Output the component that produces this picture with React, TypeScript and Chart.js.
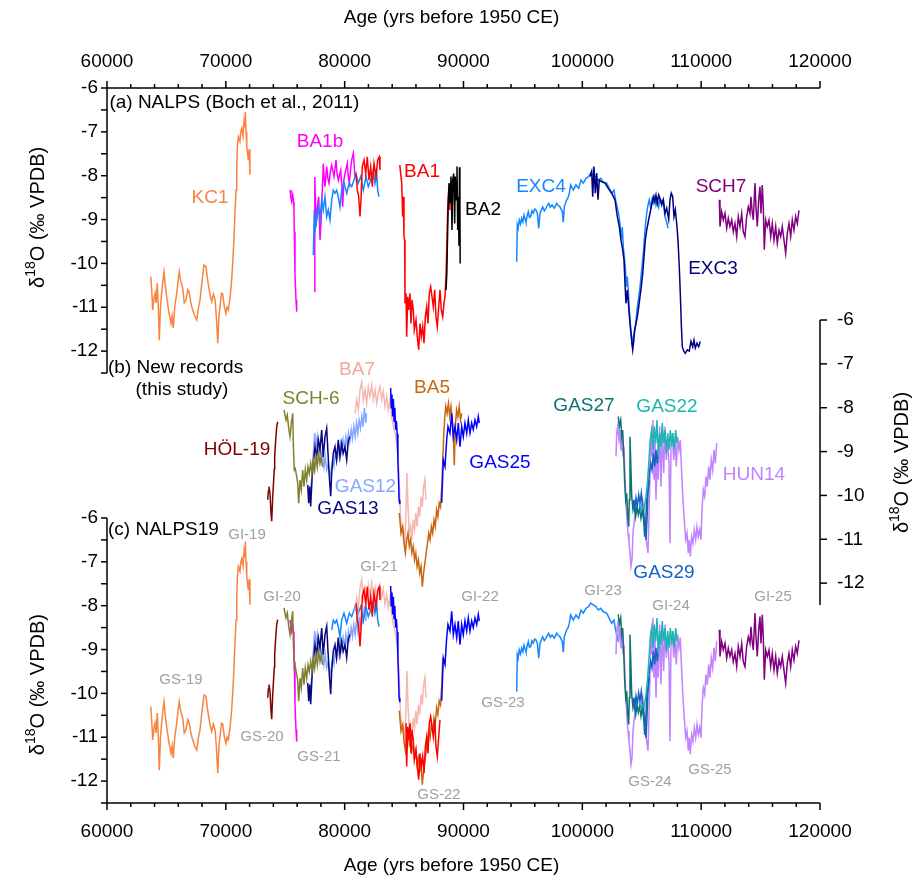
import React, { useEffect, useRef } from 'react';
import { Chart, registerables } from 'chart.js';
Chart.register(...registerables);

type P = [number, number];

// ---------------- data: [age (yrs BP 1950), d18O (permil VPDB)] ----------------
const KC1: P[] = [[63680,-10.30],[63760,-10.6],[63850,-11.06],[63950,-10.8],[64040,-10.68],[64130,-10.9],[64230,-10.45],[64320,-11.0],[64400,-11.75],[64500,-11.0],[64600,-10.68],[64700,-10.4],[64800,-10.19],[64900,-10.5],[65020,-10.76],[65200,-11.1],[65390,-11.37],[65480,-11.2],[65580,-11.47],[65700,-11.0],[65870,-10.68],[65980,-10.4],[66080,-10.19],[66200,-10.4],[66370,-10.56],[66500,-10.9],[66650,-10.83],[66800,-10.6],[66930,-10.68],[67050,-10.9],[67210,-11.06],[67380,-11.2],[67550,-11.29],[67700,-11.0],[67830,-10.83],[68000,-10.4],[68160,-10.04],[68330,-10.07],[68430,-10.3],[68530,-10.49],[68700,-10.75],[68810,-10.87],[68950,-10.7],[69090,-10.83],[69200,-11.2],[69320,-11.82],[69420,-11.2],[69510,-10.99],[69640,-10.68],[69740,-10.7],[69880,-11.0],[70010,-11.14],[70100,-11.0],[70210,-11.06],[70350,-10.8],[70490,-10.38],[70600,-9.9],[70690,-9.39],[70780,-8.8],[70860,-8.33],[70920,-7.8],[70970,-7.34],[71050,-7.11],[71190,-7.22],[71260,-7.0],[71340,-6.92],[71450,-7.1],[71530,-6.77],[71600,-6.9],[71640,-6.54],[71700,-7.0],[71760,-7.34],[71830,-7.5],[71890,-7.64],[71960,-7.4],[72030,-7.98]];

const BA1B_1: P[] = [[75400,-8.33],[75480,-8.5],[75543,-8.59],[75627,-8.44],[75700,-8.6],[75736,-8.78],[75760,-9.28],[75820,-10.23],[75870,-10.6],[75905,-10.83],[75963,-11.10]];
const BA1B_2: P[] = [[77445,-10.64],[77470,-9.5],[77503,-8.03],[77587,-9.16],[77697,-8.71],[77815,-8.48],[77924,-9.47],[78008,-9.09],[78118,-8.33],[78202,-7.72],[78280,-8.1],[78345,-8.25],[78488,-7.79],[78580,-8.05],[78681,-8.17],[78800,-7.9],[78909,-7.76],[79102,-8.02],[79271,-7.64],[79360,-7.95],[79464,-8.10],[79666,-7.87],[79760,-8.2],[79834,-8.71],[79930,-8.1],[80028,-7.95],[80221,-7.72],[80300,-8.0],[80390,-8.17],[80500,-7.85],[80592,-7.64],[80726,-7.49],[80869,-8.02]];

const EXC4_1: P[] = [[77361,-9.81],[77445,-8.78],[77540,-9.2],[77647,-9.01],[77781,-8.71],[77924,-9.01],[78067,-8.55],[78202,-8.78],[78345,-8.48],[78488,-8.93],[78622,-8.78],[78765,-9.01],[78909,-8.55],[79043,-8.33],[79186,-8.40],[79329,-8.33],[79464,-8.48],[79607,-8.71],[79750,-8.33],[79943,-8.17],[80170,-8.40],[80390,-8.17],[80592,-8.25],[80786,-8.10],[80954,-7.95],[81148,-8.17],[81350,-8.02],[81569,-8.33],[81796,-8.02],[81989,-8.25],[82191,-8.10],[82409,-7.87],[82552,-8.17],[82695,-7.95],[82780,-8.33],[82889,-8.48]];
const EXC4_2: P[] = [[94476,-9.96],[94527,-9.12],[94600,-9.2],[94695,-9.01],[94800,-9.1],[94897,-8.97],[95000,-9.05],[95091,-8.90],[95180,-8.98],[95259,-9.06],[95353,-8.92],[95453,-8.82],[95550,-8.95],[95655,-8.93],[95760,-8.8],[95873,-8.85],[96000,-8.76],[96100,-8.78],[96220,-8.86],[96327,-9.20],[96437,-8.86],[96550,-8.78],[96664,-8.71],[96800,-8.8],[96942,-8.74],[97050,-8.68],[97169,-8.63],[97300,-8.72],[97447,-8.67],[97641,-8.74],[97843,-8.63],[97980,-8.68],[98120,-8.71],[98314,-8.82],[98398,-9.06],[98482,-8.71],[98684,-8.55],[98800,-8.5],[98903,-8.40],[99021,-8.21],[99240,-8.33],[99466,-8.21],[99693,-8.29],[99887,-8.10],[100081,-8.17],[100308,-8.06],[100535,-8.02],[100703,-7.94],[100922,-7.98],[101149,-8.02],[101343,-8.10],[101545,-8.06],[101763,-8.14],[102050,-8.17],[102269,-8.29],[102471,-8.40],[102664,-8.33],[102774,-8.52],[102892,-8.67],[103026,-8.82],[103169,-9.09],[103254,-9.43],[103363,-9.17],[103447,-9.62],[103532,-9.85],[103616,-10.08],[103700,-10.53],[103784,-10.30],[103868,-10.61],[103953,-11.06],[104037,-11.37],[104121,-11.63],[104205,-11.90],[104289,-11.67],[104373,-11.56],[104491,-11.37],[104600,-11.06],[104709,-10.83],[104827,-10.61],[104936,-10.30],[105045,-10.00],[105129,-9.77],[105213,-9.47],[105297,-9.16],[105415,-8.86],[105524,-8.67],[105634,-8.55],[105752,-8.74],[105861,-8.55],[105970,-8.63],[106089,-8.48],[106198,-8.67],[106307,-8.55],[106425,-8.71],[106534,-8.52],[106677,-8.59],[106812,-8.55],[106955,-8.93],[107098,-9.06],[107208,-9.20]];

const BA1_1: P[] = [[80954,-7.95],[81064,-8.33],[81182,-8.48],[81290,-8.93],[81374,-8.55],[81484,-7.79],[81627,-7.64],[81770,-7.95],[81904,-7.57],[82047,-8.10],[82191,-7.79],[82325,-8.25],[82468,-7.72],[82636,-8.02],[82780,-7.64],[82914,-7.57],[82973,-7.87]];
const BA1_2: P[] = [[84600,-7.76],[84656,-7.8],[84799,-8.17],[84883,-8.93],[84934,-8.48],[84992,-9.39],[85051,-9.47],[85077,-10.91],[85161,-10.68],[85220,-11.67],[85304,-10.76],[85388,-11.06],[85497,-10.68],[85582,-11.37],[85666,-10.83],[85775,-11.06],[85860,-11.52],[86003,-11.29],[86112,-11.67],[86230,-11.97],[86339,-11.37],[86449,-11.67],[86567,-11.44],[86676,-11.82],[86786,-11.22],[86903,-10.99],[87012,-11.37],[87122,-10.68],[87240,-10.53],[87349,-10.76],[87458,-10.99],[87576,-10.60],[87686,-11.22],[87795,-11.44],[87913,-10.99],[88022,-10.60],[88131,-11.06],[88249,-11.22],[88359,-10.91],[88443,-10.76],[88527,-10.30],[88586,-9.69],[88670,-8.78],[88754,-8.40],[88838,-8.78],[88922,-8.25]];

const BA2: P[] = [[88527,-10.61],[88600,-10.2],[88636,-9.69],[88720,-8.55],[88780,-8.17],[88863,-8.63],[88947,-8.02],[89032,-9.24],[89090,-8.10],[89174,-7.95],[89258,-9.09],[89309,-8.02],[89393,-8.55],[89453,-7.79],[89511,-9.24],[89562,-8.48],[89621,-9.6],[89660,-7.81],[89700,-8.8],[89720,-10.0]];

const EXC3: P[] = [[100645,-8.02],[100787,-7.90],[100871,-8.48],[100980,-7.79],[101090,-8.40],[101208,-7.94],[101317,-8.55],[101427,-8.10],[101629,-8.14],[101906,-8.17],[102185,-8.29],[102471,-8.40],[102749,-8.55],[102942,-8.93],[103110,-9.16],[103254,-9.47],[103396,-9.69],[103506,-9.92],[103590,-10.45],[103674,-10.91],[103784,-10.61],[103902,-10.99],[104010,-11.37],[104121,-11.67],[104239,-11.97],[104323,-11.78],[104407,-11.52],[104516,-11.37],[104625,-11.22],[104743,-10.99],[104852,-10.76],[104962,-10.53],[105080,-10.23],[105189,-9.85],[105297,-9.47],[105415,-9.24],[105524,-9.09],[105634,-8.93],[105752,-8.78],[105861,-8.63],[105970,-8.48],[106089,-8.59],[106198,-8.44],[106307,-8.63],[106425,-8.44],[106534,-8.52],[106677,-8.67],[106812,-8.55],[106955,-8.86],[107098,-8.74],[107267,-9.0],[107376,-8.55],[107485,-8.40],[107603,-8.48],[107713,-8.93],[107822,-8.78],[107940,-9.09],[108050,-9.47],[108159,-10.08],[108243,-10.68],[108327,-11.37],[108411,-11.90],[108538,-12.0],[108664,-12.05],[108833,-11.97],[109001,-12.0],[109144,-11.78],[109287,-11.9],[109396,-11.75],[109506,-11.93],[109649,-11.82],[109792,-11.9],[109926,-11.78]];

const SCH7: P[] = [[111528,-8.55],[111584,-9.16],[111727,-8.82],[111862,-9.01],[112005,-8.86],[112148,-9.20],[112283,-8.97],[112426,-9.16],[112569,-9.01],[112703,-9.28],[112846,-9.09],[112989,-9.39],[113124,-8.93],[113267,-9.16],[113410,-8.86],[113544,-9.28],[113687,-9.39],[113830,-8.93],[113964,-8.71],[114108,-8.86],[114192,-8.48],[114276,-8.78],[114386,-9.01],[114529,-8.17],[114613,-8.71],[114722,-9.16],[114840,-8.55],[114950,-8.25],[115034,-8.86],[115143,-8.21],[115228,-8.71],[115312,-9.69],[115430,-9.01],[115564,-9.16],[115707,-9.01],[115850,-9.39],[115985,-9.09],[116128,-9.47],[116271,-9.16],[116406,-9.54],[116549,-9.24],[116692,-9.39],[116826,-9.16],[116969,-9.47],[117112,-9.77],[117247,-9.31],[117390,-9.09],[117533,-9.39],[117667,-9.01],[117810,-9.24],[117953,-8.93],[118088,-9.09],[118231,-8.79]];

const HOL19: P[] = [[73523,-10.10],[73580,-9.9],[73632,-9.80],[73716,-9.95],[73801,-10.40],[73860,-10.59],[73944,-10.03],[74028,-9.64],[74080,-9.4],[74112,-9.11],[74196,-8.73],[74281,-8.43],[74365,-8.32]];

const SCH6: P[] = [[74895,-8.05],[75063,-8.28],[75173,-8.17],[75291,-8.47],[75400,-8.66],[75509,-8.36],[75627,-8.13],[75677,-8.81],[75761,-9.42],[75846,-9.39],[75963,-9.57],[76047,-9.72],[76131,-10.18],[76241,-9.65],[76350,-9.87],[76468,-9.42],[76578,-9.80],[76687,-9.42],[76805,-9.65],[76914,-9.35],[77023,-9.50],[77141,-9.27],[77251,-9.50],[77361,-9.19],[77478,-9.42],[77587,-9.12],[77697,-9.35],[77815,-9.04],[77924,-9.27],[78033,-9.12],[78151,-9.35]];

const GAS12: P[] = [[77082,-10.02],[77225,-9.64],[77361,-9.04],[77478,-8.58],[77587,-8.89],[77697,-8.66],[77815,-9.04],[77924,-8.81],[78033,-9.19],[78151,-8.96],[78260,-9.34],[78370,-9.12],[78488,-9.42],[78622,-9.27],[78765,-9.57],[78874,-9.42],[78984,-9.19],[79102,-9.34],[79211,-9.04],[79320,-9.19],[79430,-8.89],[79548,-9.12],[79657,-8.81],[79767,-9.0],[79876,-8.73],[79994,-8.92],[80103,-8.66],[80212,-8.85],[80322,-8.58],[80431,-8.77],[80549,-8.5],[80658,-8.7],[80768,-8.43],[80886,-8.66],[80995,-8.35],[81104,-8.58],[81214,-8.28],[81332,-8.47],[81441,-8.2],[81551,-8.43],[81660,-8.01],[81778,-8.35],[81833,-8.13]];

const GAS13: P[] = [[76889,-9.76],[76973,-10.18],[77057,-9.80],[77141,-10.25],[77251,-9.64],[77361,-9.27],[77503,-8.89],[77640,-9.12],[77782,-8.73],[77924,-8.96],[78067,-8.51],[78202,-9.12],[78345,-8.66],[78488,-8.47],[78597,-9.04],[78706,-9.57],[78824,-10.02],[78908,-9.5],[79043,-9.04],[79186,-8.89],[79320,-9.19],[79464,-8.73],[79607,-9.12],[79750,-8.81],[79876,-9.04],[80028,-8.89],[80170,-9.19],[80305,-8.77],[80431,-8.66]];

const BA7: P[] = [[80869,-8.13],[81011,-7.82],[81154,-8.05],[81290,-7.59],[81433,-7.41],[81568,-7.82],[81711,-7.59],[81854,-7.90],[81989,-7.52],[82132,-7.75],[82275,-7.48],[82409,-7.82],[82552,-7.59],[82695,-7.90],[82830,-7.67],[82973,-7.52],[83116,-7.82],[83250,-7.63],[83393,-7.97],[83536,-7.75],[83671,-8.05],[83814,-7.82],[83957,-8.20],[84100,-8.43],[84235,-8.58],[84378,-8.81],[84487,-9.04],[84605,-9.80],[84714,-10.56],[84832,-10.86],[84941,-10.78],[85051,-11.16],[85161,-10.4],[85245,-9.49],[85329,-10.26],[85439,-10.86],[85548,-10.71],[85658,-11.01],[85768,-10.56],[85877,-10.78],[85986,-10.4],[86096,-10.71],[86205,-10.26],[86314,-10.48],[86424,-10.03],[86533,-10.26],[86642,-9.8],[86752,-9.64],[86836,-10.1]];

const BA5: P[] = [[84597,-10.40],[84740,-10.86],[84883,-10.71],[84992,-11.09],[85110,-11.31],[85220,-11.01],[85329,-10.86],[85439,-11.16],[85548,-11.01],[85658,-11.31],[85768,-11.16],[85877,-11.47],[85986,-11.31],[86096,-11.62],[86205,-11.47],[86314,-11.77],[86424,-11.62],[86533,-12.08],[86642,-11.77],[86752,-11.54],[86861,-11.31],[86970,-11.09],[87079,-10.86],[87189,-11.01],[87298,-10.71],[87407,-10.86],[87517,-10.56],[87626,-10.71],[87736,-10.33],[87845,-10.48],[87955,-10.17],[88064,-10.26],[88173,-9.8],[88257,-9.19],[88342,-8.58],[88426,-8.2],[88510,-7.97],[88620,-8.13],[88729,-7.9],[88838,-8.2],[88947,-7.97],[89056,-8.28],[89141,-8.58],[89225,-9.31],[89309,-8.43],[89418,-8.05],[89528,-8.2],[89637,-7.97],[89746,-8.28],[89855,-8.13]];

const GAS25_1: P[] = [[83870,-7.55],[83920,-8.0],[83980,-7.7],[84040,-8.2],[84100,-7.8],[84160,-8.3],[84220,-8.0],[84290,-8.5],[84350,-8.3],[84420,-8.6],[84480,-9.2],[84530,-9.6],[84580,-10.1],[84640,-10.2]];
const GAS25_2: P[] = [[88165,-10.17],[88300,-9.19],[88443,-9.34],[88586,-8.73],[88695,-8.43],[88863,-8.58],[89006,-8.13],[89141,-8.66],[89284,-8.43],[89427,-8.73],[89562,-8.35],[89705,-8.89],[89848,-8.43],[89982,-8.66],[90126,-8.35],[90269,-8.58],[90403,-8.28],[90546,-8.58],[90689,-8.35],[90824,-8.5],[90967,-8.28],[91110,-8.43],[91245,-8.2],[91329,-8.35]];

const GAS27: P[] = [[103026,-8.20],[103110,-8.43],[103228,-8.28],[103312,-8.66],[103396,-8.51],[103480,-9.04],[103565,-9.72],[103649,-10.10],[103733,-9.95],[103817,-10.48],[103902,-10.71],[103953,-10.10],[104010,-8.66],[104070,-9.19],[104154,-10.02],[104263,-10.33],[104373,-10.18],[104491,-10.48],[104600,-10.25],[104709,-10.44],[104827,-10.29],[104936,-10.52],[105045,-10.33],[105163,-10.56],[105247,-10.94],[105331,-10.63],[105415,-10.10],[105524,-9.87],[105634,-9.64]];

const GAS22: P[] = [[104852,-10.40],[105020,-10.25],[105189,-10.33],[105357,-10.02],[105499,-9.64],[105609,-9.19],[105718,-8.73],[105836,-8.51],[105946,-8.96],[106056,-8.43],[106174,-8.81],[106283,-8.28],[106392,-9.11],[106510,-8.58],[106619,-8.89],[106728,-8.35],[106847,-8.81],[106956,-8.51],[107065,-9.04],[107183,-8.58],[107293,-8.96],[107402,-8.51],[107520,-8.89],[107629,-8.58],[107738,-8.96],[107856,-8.51],[107966,-8.81]];

const GAS29: P[] = [[104289,-10.10],[104407,-10.33],[104516,-10.06],[104625,-10.25],[104743,-9.99],[104852,-10.18],[104962,-9.95],[105080,-10.25],[105189,-10.48],[105273,-10.78],[105357,-11.01],[105441,-10.56],[105524,-9.95],[105634,-9.49],[105752,-9.27],[105861,-9.42],[105970,-9.04],[106089,-9.34],[106198,-8.96],[106307,-9.27],[106425,-8.89]];

const HUN14: P[] = [[102833,-9.11],[102892,-8.58],[102976,-8.43],[103085,-8.73],[103169,-8.51],[103254,-8.96],[103338,-8.66],[103422,-9.11],[103506,-8.89],[103590,-9.57],[103674,-10.10],[103759,-10.56],[103843,-10.86],[103927,-11.09],[104010,-11.31],[104094,-11.62],[104179,-11.47],[104263,-10.86],[104407,-10.48],[104625,-10.33],[104852,-10.40],[105080,-10.10],[105247,-10.71],[105415,-11.09],[105524,-11.31],[105609,-10.48],[105693,-9.57],[105777,-8.58],[105861,-9.11],[105946,-8.28],[106030,-9.64],[106114,-8.73],[106198,-10.10],[106283,-9.19],[106392,-9.64],[106510,-8.43],[106619,-9.80],[106728,-8.58],[106847,-9.49],[106956,-8.43],[107065,-9.19],[107183,-8.73],[107293,-9.27],[107376,-11.09],[107460,-8.89],[107570,-8.58],[107688,-9.19],[107797,-8.73],[107906,-9.34],[108024,-8.66],[108133,-8.96],[108243,-8.73],[108361,-9.49],[108470,-10.10],[108580,-10.56],[108698,-11.01],[108807,-10.86],[108916,-11.31],[109001,-11.01],[109085,-11.39],[109203,-10.94],[109312,-11.09],[109422,-10.78],[109540,-11.01],[109649,-10.71],[109758,-10.94],[109876,-10.78],[109985,-11.01],[110069,-10.33],[110178,-9.87],[110297,-10.02],[110406,-9.57],[110515,-9.80],[110633,-9.34],[110742,-9.64],[110852,-9.19],[110970,-9.42],[111079,-8.96],[111188,-9.27],[111306,-8.81]];

// ---------------- axes ----------------
const X_MIN = 60000;
const X_MAX = 120000;
const X_TICK_LABELS = [60000, 70000, 80000, 90000, 100000, 110000, 120000];
const X_MINOR_STEP = 2000;
const Y_TICK_LABELS = [-6, -7, -8, -9, -10, -11, -12];
const Y_TOP = -6;
const Y_BOTTOM = -12.5;
const Y_SPAN = 16.305; // value span of every hidden y scale over the plot height

const C = {
  KC1: '#F8843F', BA1b: '#FF00FF', BA1: '#FF0000', BA2: '#000000', EXC4: '#1487FF', EXC3: '#000080',
  SCH7: '#800080', HOL19: '#800000', SCH6: '#808033', BA7: '#F5B7B1', BA5: '#C8670F', GAS12: '#84A9FF',
  GAS13: '#08087E', GAS25: '#0000FF', GAS27: '#0D7272', GAS22: '#1DB4B4', GAS29: '#1262C4', HUN14: '#C183FF',
  GI: '#A0A0A0',
};

// labels: [text, age, value, color, axis, align]
type Lab = [string, number, number, string, string, CanvasTextAlign?];
const SERIES_LABELS: Lab[] = [
  ['(a) NALPS (Boch et al., 2011)', 60200, -6.34, '#000', 'yA', 'left'],
  ['KC1', 68667, -8.51, C.KC1, 'yA'],
  ['BA1b', 77924, -7.23, C.BA1b, 'yA'],
  ['BA1', 86507, -7.92, C.BA1, 'yA'],
  ['BA2', 91640, -8.78, '#000', 'yA'],
  ['EXC4', 96521, -8.26, C.EXC4, 'yA'],
  ['SCH7', 111668, -8.26, C.SCH7, 'yA'],
  ['EXC3', 110995, -10.13, C.EXC3, 'yA'],
  ['(b) New records', 60084, -7.09, '#000', 'yB', 'left'],
  ['(this study)', 66311, -7.59, '#000', 'yB'],
  ['BA7', 81038, -7.14, '#F4A898', 'yB'],
  ['BA5', 87349, -7.55, C.BA5, 'yB'],
  ['SCH-6', 77167, -7.80, C.SCH6, 'yB'],
  ['HÖL-19', 70940, -8.96, C.HOL19, 'yB'],
  ['GAS12', 81753, -9.80, C.GAS12, 'yB'],
  ['GAS13', 80280, -10.31, C.GAS13, 'yB'],
  ['GAS25', 93071, -9.26, C.GAS25, 'yB'],
  ['GAS27', 100140, -7.96, C.GAS27, 'yB'],
  ['GAS22', 107124, -7.98, C.GAS22, 'yB'],
  ['HUN14', 114445, -9.53, C.HUN14, 'yB'],
  ['GAS29', 106871, -11.76, C.GAS29, 'yB'],
  ['(c) NALPS19', 60084, -6.27, '#000', 'yC', 'left'],
];
const EVENT_LABELS: [string, number, number][] = [
  ['GI-19', 71781, -6.38], ['GI-20', 74726, -7.80], ['GS-19', 66227, -9.69], ['GS-20', 73043, -10.99],
  ['GS-21', 77840, -11.45], ['GI-21', 82889, -7.11], ['GS-22', 87938, -12.31], ['GI-22', 91388, -7.80],
  ['GS-23', 93323, -10.22], ['GI-23', 101738, -7.66], ['GI-24', 107461, -8.00], ['GS-24', 105693, -12.02],
  ['GS-25', 110742, -11.75], ['GI-25', 116043, -7.80],
];
// centres of the rotated y titles, as axis values
const TITLE_A_VALUE = -8.95;
const TITLE_C_VALUE = -9.8;
const TITLE_B_VALUE = -9.25;

const FONT = '"Liberation Sans", Arial, sans-serif';

const pts = (arr: P[], lo = -Infinity, hi = Infinity) =>
  arr.filter((p) => p[0] >= lo && p[0] <= hi).map(([x, y]) => ({ x, y }));

function drawDeltaTitle(ctx: CanvasRenderingContext2D, cx: number, cy: number) {
  ctx.save();
  ctx.translate(cx, cy);
  ctx.rotate(-Math.PI / 2);
  const big = `20px ${FONT}`;
  const small = `14px ${FONT}`;
  ctx.font = big;
  const w1 = ctx.measureText('δ').width;
  const w3 = ctx.measureText('O (‰ VPDB)').width;
  ctx.font = small;
  const w2 = ctx.measureText('18').width;
  let sx = -(w1 + w2 + w3) / 2;
  ctx.textBaseline = 'middle';
  ctx.textAlign = 'left';
  ctx.fillStyle = '#000';
  ctx.font = big;
  ctx.fillText('δ', sx, 0);
  sx += w1;
  ctx.font = small;
  ctx.fillText('18', sx, -7);
  sx += w2;
  ctx.font = big;
  ctx.fillText('O (‰ VPDB)', sx, 0);
  ctx.restore();
}

const decorPlugin = {
  id: 'decor',
  afterDatasetsDraw(chart: any) {
    const ctx: CanvasRenderingContext2D = chart.ctx;
    const { x, yA, yB, yC } = chart.scales;
    const a = chart.chartArea;
    const line = (x1: number, y1: number, x2: number, y2: number) => {
      ctx.beginPath();
      ctx.moveTo(x1, y1);
      ctx.lineTo(x2, y2);
      ctx.stroke();
    };
    ctx.save();
    ctx.strokeStyle = '#000';
    ctx.lineWidth = 1.5;
    ctx.fillStyle = '#000';
    // x axes top and bottom
    line(a.left, a.top, a.right, a.top);
    line(a.left, a.bottom, a.right, a.bottom);
    for (let v = X_MIN; v <= X_MAX; v += X_MINOR_STEP) {
      const px = x.getPixelForValue(v);
      const len = X_TICK_LABELS.includes(v) ? 7 : 4;
      line(px, a.top, px, a.top - len);
      line(px, a.bottom, px, a.bottom + len);
    }
    ctx.font = `19px ${FONT}`;
    ctx.textAlign = 'center';
    ctx.textBaseline = 'middle';
    X_TICK_LABELS.forEach((v) => {
      const px = x.getPixelForValue(v);
      ctx.fillText(String(v), px, a.top - 26);
      ctx.fillText(String(v), px, a.bottom + 29);
    });
    ctx.fillText('Age (yrs before 1950 CE)', (a.left + a.right) / 2 - 12, 18);
    ctx.fillText('Age (yrs before 1950 CE)', (a.left + a.right) / 2 - 12, 866);

    // left axes (a) and (c)
    [yA, yC].forEach((s: any) => {
      line(a.left, s.getPixelForValue(Y_TOP), a.left, s.getPixelForValue(Y_BOTTOM));
      for (let v = Y_TOP; v >= Y_BOTTOM; v -= 0.5) {
        const py = s.getPixelForValue(v);
        line(a.left - 6, py, a.left, py);
      }
      ctx.textAlign = 'right';
      Y_TICK_LABELS.forEach((v) => ctx.fillText(String(v), a.left - 9, s.getPixelForValue(v)));
    });
    // right axis (b)
    line(a.right, yB.getPixelForValue(Y_TOP), a.right, yB.getPixelForValue(Y_BOTTOM));
    ctx.textAlign = 'left';
    Y_TICK_LABELS.forEach((v) => {
      const py = yB.getPixelForValue(v);
      line(a.right, py, a.right + 7, py);
      ctx.fillText(String(v), a.right + 17, py);
    });

    drawDeltaTitle(ctx, 38, yA.getPixelForValue(TITLE_A_VALUE));
    drawDeltaTitle(ctx, 38, yC.getPixelForValue(TITLE_C_VALUE));
    drawDeltaTitle(ctx, 902, yB.getPixelForValue(TITLE_B_VALUE));

    // series labels
    ctx.font = `19px ${FONT}`;
    SERIES_LABELS.forEach(([t, ax, vy, col, axis, align]) => {
      ctx.fillStyle = col;
      ctx.textAlign = align || 'center';
      ctx.fillText(t, x.getPixelForValue(ax), chart.scales[axis].getPixelForValue(vy));
    });
    ctx.font = `15px ${FONT}`;
    ctx.fillStyle = C.GI;
    ctx.textAlign = 'center';
    EVENT_LABELS.forEach(([t, ax, vy]) => ctx.fillText(t, x.getPixelForValue(ax), yC.getPixelForValue(vy)));
    ctx.restore();
  },
};

export default function App() {
  const ref = useRef<HTMLCanvasElement>(null);
  useEffect(() => {
    if (!ref.current) return;
    // bottom -> top drawing order
    const layers: [any[], string, string][] = [
      // panel (a)
      [pts(KC1), C.KC1, 'yA'],
      [pts(BA1B_1), C.BA1b, 'yA'],
      [pts(BA1B_2), C.BA1b, 'yA'],
      [pts(EXC4_1), C.EXC4, 'yA'],
      [pts(EXC4_2), C.EXC4, 'yA'],
      [pts(EXC3), C.EXC3, 'yA'],
      [pts(BA1_1), C.BA1, 'yA'],
      [pts(BA1_2), C.BA1, 'yA'],
      [pts(BA2), C.BA2, 'yA'],
      [pts(SCH7), C.SCH7, 'yA'],
      // panel (b)
      [pts(HOL19), C.HOL19, 'yB'],
      [pts(GAS12), C.GAS12, 'yB'],
      [pts(GAS13), C.GAS13, 'yB'],
      [pts(SCH6), C.SCH6, 'yB'],
      [pts(BA7), C.BA7, 'yB'],
      [pts(BA5), C.BA5, 'yB'],
      [pts(GAS25_1), C.GAS25, 'yB'],
      [pts(GAS25_2), C.GAS25, 'yB'],
      [pts(HUN14), C.HUN14, 'yB'],
      [pts(GAS27), C.GAS27, 'yB'],
      [pts(GAS29), C.GAS29, 'yB'],
      [pts(GAS22), C.GAS22, 'yB'],
      // panel (c) NALPS19 composite
      [pts(KC1), C.KC1, 'yC'],
      [pts(HOL19), C.HOL19, 'yC'],
      [pts(BA1B_1), C.BA1b, 'yC'],
      [pts(GAS12), C.GAS12, 'yC'],
      [pts(GAS13), C.GAS13, 'yC'],
      [pts(SCH6), C.SCH6, 'yC'],
      [pts(EXC4_1, 78900), C.EXC4, 'yC'],
      [pts(BA7), C.BA7, 'yC'],
      [pts(BA5, -Infinity, 88260), C.BA5, 'yC'],
      [pts(BA1_1), C.BA1, 'yC'],
      [pts(BA1_2, 85100, 88100), C.BA1, 'yC'],
      [pts(GAS25_1), C.GAS25, 'yC'],
      [pts(GAS25_2), C.GAS25, 'yC'],
      [pts(EXC4_2, -Infinity, 103100), C.EXC4, 'yC'],
      [pts(HUN14), C.HUN14, 'yC'],
      [pts(GAS27), C.GAS27, 'yC'],
      [pts(GAS29), C.GAS29, 'yC'],
      [pts(GAS22), C.GAS22, 'yC'],
      [pts(SCH7), C.SCH7, 'yC'],
    ];
    const n = layers.length;
    const datasets = layers.map(([data, color, axis], i) => ({
      data,
      borderColor: color,
      borderWidth: 1.5,
      pointRadius: 0,
      fill: false,
      tension: 0,
      xAxisID: 'x',
      yAxisID: axis,
      order: n - i,
    }));
    const chart = new Chart(ref.current, {
      type: 'line',
      data: { datasets },
      options: {
        responsive: false,
        animation: false,
        events: [],
        layout: { padding: { left: 107, right: 100, top: 88, bottom: 80 } },
        plugins: { legend: { display: false }, tooltip: { enabled: false } },
        scales: {
          x: { type: 'linear', min: X_MIN, max: X_MAX, display: false },
          yA: { type: 'linear', min: Y_TOP - Y_SPAN, max: Y_TOP, display: false },
          yB: { type: 'linear', min: -0.709 - Y_SPAN, max: -0.709, display: false },
          yC: { type: 'linear', min: Y_BOTTOM, max: Y_BOTTOM + Y_SPAN, display: false },
        },
      },
      plugins: [decorPlugin],
    });
    return () => chart.destroy();
  }, []);
  return (
    <div style={{ position: 'absolute', left: 0, top: 0, width: 920, height: 883, background: '#fff' }}>
      <canvas ref={ref} width={920} height={883} style={{ display: 'block' }} />
    </div>
  );
}
